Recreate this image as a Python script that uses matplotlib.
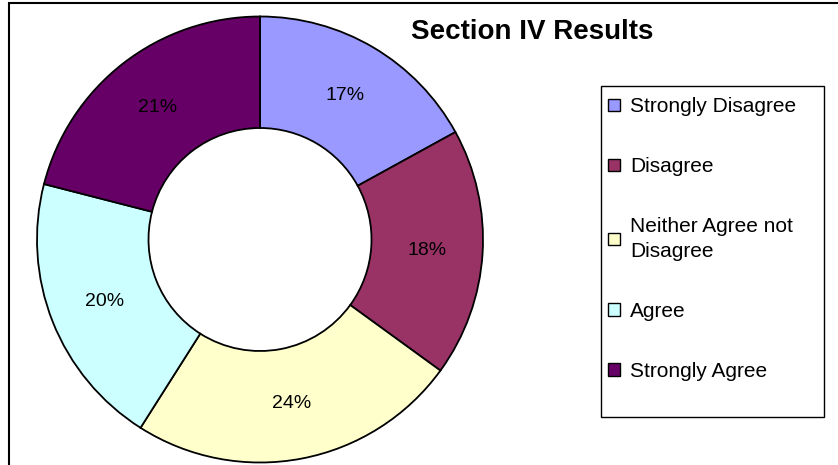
import matplotlib
matplotlib.use("Agg")
import matplotlib.pyplot as plt
from matplotlib.patches import Rectangle

categories = ["Strongly Disagree", "Disagree", "Neither Agree not\nDisagree", "Agree", "Strongly Agree"]
values = [17, 18, 24, 20, 21]
colors = ["#9999FF", "#993366", "#FFFFCC", "#CCFFFF", "#660066"]
title = "Section IV Results"

plt.rcParams['font.family'] = ['Liberation Sans', 'DejaVu Sans']

W, H = 838, 465
fig = plt.figure(figsize=(W / 100, H / 100), dpi=100)
fig.patch.set_facecolor("white")

ax = fig.add_axes([0, 0, 1, 1])
R = 223
wedges, texts, autotexts = ax.pie(
    values, colors=colors, startangle=90, counterclock=False,
    radius=R, center=(260, H - 239.5),
    wedgeprops=dict(width=R * 0.5, edgecolor="black", linewidth=1.3),
    autopct=lambda p: f"{p:.0f}%", pctdistance=0.75,
    textprops=dict(fontsize=14, color="black"),
)
ax.set_xlim(0, W)
ax.set_ylim(0, H)
ax.set_aspect("equal")
ax.axis("off")

fig.text(532 / W, 1 - 32 / H, title, ha="center", va="center",
         fontsize=20, fontweight="bold")

# legend box frame (Excel-style plain rectangle)
fig.add_artist(Rectangle((601 / W, 1 - 417 / H), (824 - 601) / W, (417 - 86) / H,
                         transform=fig.transFigure, facecolor="white",
                         edgecolor="black", linewidth=1.0, zorder=1))

leg = fig.legend(wedges, categories, loc="upper left",
                 bbox_to_anchor=(599 / W, 1 - 88 / H),
                 fontsize=15, frameon=False,
                 handlelength=0.55, handleheight=0.55,
                 handletextpad=0.5, labelspacing=1.97, borderpad=0.45,
                 borderaxespad=0)
leg.set_zorder(2)
for t in leg.get_texts():
    t.set_linespacing(1.35)
for h in leg.legend_handles:
    h.set_edgecolor("black")
    h.set_linewidth(1.0)

fig.add_artist(Rectangle((8.5 / W, -0.1), 1.2, (H - 3.5) / H + 0.1,
                         transform=fig.transFigure, fill=False,
                         edgecolor="black", linewidth=1.5))

fig.savefig("out.png", dpi=100)
